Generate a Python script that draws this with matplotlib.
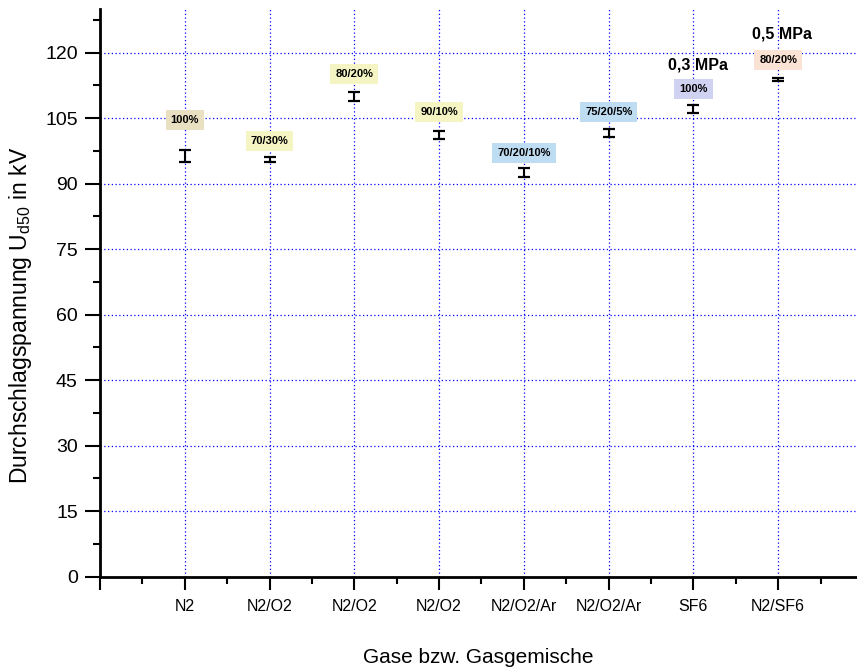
import matplotlib
matplotlib.use('Agg')
import matplotlib.pyplot as plt
from matplotlib.ticker import MultipleLocator

plt.rcParams['font.family'] = ['Liberation Sans', 'DejaVu Sans']
plt.rcParams['mathtext.fontset'] = 'custom'
plt.rcParams['mathtext.rm'] = 'Liberation Sans'
plt.rcParams['mathtext.it'] = 'Liberation Sans:italic'

GASES = ['N2', 'N2/O2', 'N2/O2', 'N2/O2', 'N2/O2/Ar', 'N2/O2/Ar', 'SF6', 'N2/SF6']
U_D50 = [96.3, 95.5, 110.0, 101.1, 92.6, 101.7, 107.1, 113.8]
U_ERR = [1.4, 0.55, 1.05, 0.9, 1.0, 0.9, 0.9, 0.35]

MIXES = ['100%', '70/30%', '80/20%', '90/10%', '70/20/10%', '75/20/5%', '100%', '80/20%']
MIX_Y = [104.5, 99.7, 115.2, 106.3, 97.1, 106.5, 111.6, 118.4]
MIX_COLORS = ['#E8E0C0', '#F5F5C3', '#F5F5C3', '#F5F5C3',
              '#BFDDF2', '#BFDDF2', '#D0D2F2', '#FAE2D4']

PRESSURES = ['0,3 MPa', '0,5 MPa']
PRESSURE_X = [7.05, 8.05]
PRESSURE_Y = [117.2, 124.3]

if __name__ == '__main__':
    fig = plt.figure(figsize=(8.57, 6.71), dpi=100)
    ax = fig.add_axes([0.1167, 0.1405, 0.8833, 0.8461])

    x = list(range(1, len(GASES) + 1))
    ax.errorbar(x, U_D50, yerr=U_ERR, fmt='none', ecolor='black',
                elinewidth=1.5, capsize=4, capthick=1.6, zorder=3)

    for xi, label, y, color in zip(x, MIXES, MIX_Y, MIX_COLORS):
        ax.text(xi, y, label, ha='center', va='center', fontsize=8,
                fontweight='bold', zorder=4,
                bbox=dict(boxstyle='square,pad=0.45', fc=color, ec='none'))

    for xi, y, label in zip(PRESSURE_X, PRESSURE_Y, PRESSURES):
        ax.text(xi, y, label, ha='center', va='center', fontsize=11.5,
                fontweight='bold', zorder=4)

    ax.set_xlim(0, 8.93)
    ax.set_ylim(0, 130)
    ax.set_xticks(range(0, 9))
    ax.set_xticklabels([''] + GASES)
    ax.xaxis.set_minor_locator(MultipleLocator(0.5))
    ax.yaxis.set_major_locator(MultipleLocator(15))
    ax.yaxis.set_minor_locator(MultipleLocator(7.5))

    ax.tick_params(axis='x', which='major', length=9, width=1.5, labelsize=11.5, pad=7)
    ax.tick_params(axis='x', which='minor', length=5, width=1.5)
    ax.tick_params(axis='y', which='major', length=11, width=1.5, labelsize=14, pad=5)
    ax.tick_params(axis='y', which='minor', length=5, width=1.5)

    for side in ['top', 'right']:
        ax.spines[side].set_visible(False)
    for side in ['left', 'bottom']:
        ax.spines[side].set_linewidth(2)

    ax.grid(True, which='major', color='#0000FF', linestyle=(0, (1, 2)), linewidth=0.9)
    ax.set_axisbelow(True)

    ax.set_xlabel('Gase bzw. Gasgemische', fontsize=15)
    ax.set_ylabel(r'Durchschlagspannung U$_{\mathrm{d50}}$ in kV', fontsize=16.5)
    ax.xaxis.set_label_coords(0.5, -0.125)
    ax.yaxis.set_label_coords(-0.087, 0.461)

    plt.savefig('out.png', dpi=100)
